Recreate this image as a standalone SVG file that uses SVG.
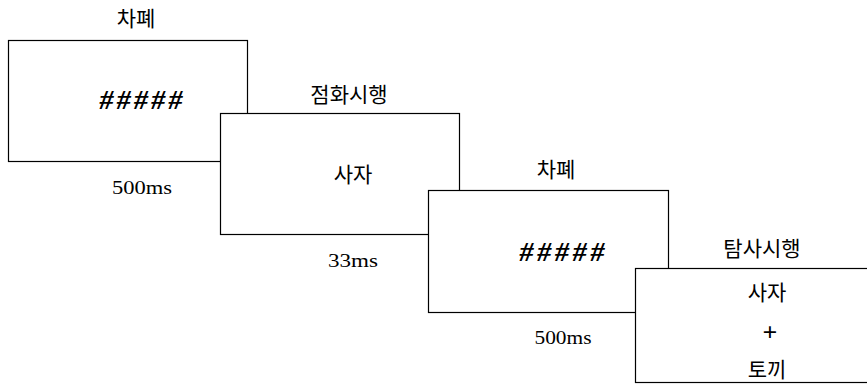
<svg xmlns="http://www.w3.org/2000/svg" width="867" height="391" viewBox="0 0 867 391">
<style>
.box{fill:#fff;stroke:#000;stroke-width:1.2}
.ko{font-family:"Noto Sans CJK KR","Noto Sans",sans-serif;font-size:21px;fill:#000;text-anchor:middle}
.ms{font-family:"Liberation Serif",serif;font-size:19px;fill:#000;text-anchor:middle}
.hash{font-family:"Liberation Serif",serif;font-style:italic;font-weight:bold;font-size:28px;fill:#000;text-anchor:middle}
.plus{font-family:"Liberation Serif",serif;font-weight:bold;font-size:26px;fill:#000;text-anchor:middle}
</style>
<rect width="867" height="391" fill="#fff"/>
<g id="screen1">
<text class="ko" x="136" y="26">차폐</text>
<rect class="box" x="8.5" y="40.5" width="239" height="121"/>
<text class="hash" x="141" y="109" textLength="83" lengthAdjust="spacing">#####</text>
<text class="ms" x="142" y="194" textLength="60" lengthAdjust="spacingAndGlyphs">500ms</text>
</g>
<g id="screen2">
<text class="ko" x="349" y="102">점화시행</text>
<rect class="box" x="220.5" y="113.5" width="239" height="121"/>
<text class="ko" x="353" y="182">사자</text>
<text class="ms" x="353" y="267" textLength="50" lengthAdjust="spacingAndGlyphs">33ms</text>
</g>
<g id="screen3">
<text class="ko" x="556" y="177">차폐</text>
<rect class="box" x="428.5" y="190.5" width="240" height="122"/>
<text class="hash" x="562" y="261" textLength="85" lengthAdjust="spacing">#####</text>
<text class="ms" x="563" y="344" textLength="57" lengthAdjust="spacingAndGlyphs">500ms</text>
</g>
<g id="screen4">
<text class="ko" x="762" y="256">탐사시행</text>
<rect class="box" x="635.5" y="268.5" width="250" height="114"/>
<text class="ko" x="767" y="300">사자</text>
<text class="plus" x="770" y="341">+</text>
<text class="ko" x="767" y="377">토끼</text>
</g>
</svg>
